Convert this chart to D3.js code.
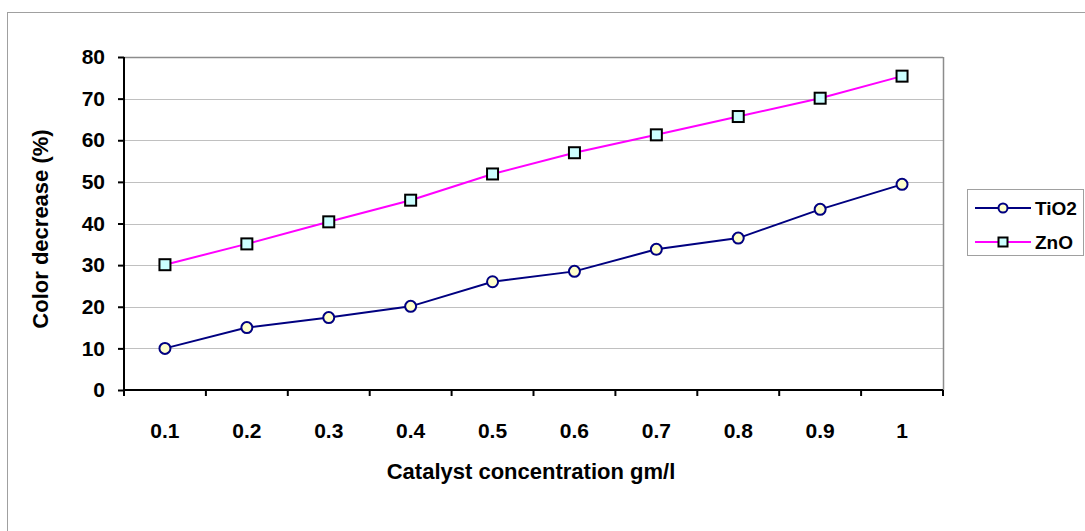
<!DOCTYPE html>
<html>
<head>
<meta charset="utf-8">
<script src="https://cdn.jsdelivr.net/npm/d3@7"></script>
<style>
  html, body { margin: 0; padding: 0; background: #fff; }
  svg { display: block; font-family: "Liberation Sans", Arial, sans-serif; }
</style>
</head>
<body>
<svg id="chart" width="1085" height="531"></svg>
<script>
// Catalyst concentrations (gm/l) on the x axis
const categories = ["0.1", "0.2", "0.3", "0.4", "0.5", "0.6", "0.7", "0.8", "0.9", "1"];
// Colour decrease (%) for each catalyst
const tio2 = [10, 15, 17.4, 20.1, 26, 28.5, 33.8, 36.5, 43.4, 49.4];
const zno = [30.1, 35.1, 40.4, 45.6, 51.9, 57, 61.3, 65.7, 70.1, 75.4];
const yTicks = [0, 10, 20, 30, 40, 50, 60, 70, 80];
const seriesNames = ["TiO2", "ZnO"];

const svg = d3.select("#chart");

// Outer chart frame
svg.append("rect")
  .attr("x", 7.5).attr("y", 12.5)
  .attr("width", 1100).attr("height", 540)
  .attr("fill", "none").attr("stroke", "#a0a0a0").attr("stroke-width", 1);

const plot = { left: 124, right: 943, top: 57, bottom: 390 };

const x = d3.scaleBand().domain(categories).range([plot.left, plot.right]).padding(0);
const y = d3.scaleLinear().domain([0, 80]).range([plot.bottom, plot.top]);

// Horizontal gridlines
svg.append("g")
  .selectAll("line")
  .data(yTicks.filter(d => d > 0))
  .join("line")
  .attr("x1", plot.left).attr("x2", plot.right)
  .attr("y1", d => Math.round(y(d)) + 0.5).attr("y2", d => Math.round(y(d)) + 0.5)
  .attr("stroke", d => d === 80 ? "#8c8c8c" : "#c0c0c0")
  .attr("stroke-width", d => d === 80 ? 1.5 : 1);

// Right edge of plot area
svg.append("line")
  .attr("x1", plot.right + 0.5).attr("x2", plot.right + 0.5)
  .attr("y1", plot.top).attr("y2", plot.bottom)
  .attr("stroke", "#8c8c8c").attr("stroke-width", 1.5);

// Y axis
const yAxis = d3.axisLeft(y).tickValues(yTicks).tickSize(6).tickPadding(13);
const gy = svg.append("g")
  .attr("transform", `translate(${plot.left},0)`)
  .call(yAxis);
gy.select(".domain").attr("stroke", "#000").attr("stroke-width", 2).attr("d", `M0,${plot.top}V${plot.bottom}`);
gy.selectAll(".tick line").attr("stroke", "#000").attr("stroke-width", 2);
gy.selectAll(".tick text")
  .attr("font-size", 21).attr("font-weight", "bold").attr("fill", "#000")
  .attr("font-family", "Liberation Sans, Arial, sans-serif");

// X axis: ticks sit on category boundaries, labels in the middle
const gx = svg.append("g").attr("transform", `translate(0,${plot.bottom})`);
gx.append("line")
  .attr("x1", plot.left - 1).attr("x2", plot.right)
  .attr("stroke", "#000").attr("stroke-width", 2);
const boundaries = categories.map(c => x(c) + x.bandwidth()).concat([x(categories[0])]);
gx.selectAll("line.tk")
  .data(boundaries)
  .join("line").attr("class", "tk")
  .attr("x1", d => d).attr("x2", d => d)
  .attr("y1", 0).attr("y2", 6)
  .attr("stroke", "#000").attr("stroke-width", 2);
gx.selectAll("text")
  .data(categories)
  .join("text")
  .attr("x", d => x(d) + x.bandwidth() / 2)
  .attr("y", 48)
  .attr("text-anchor", "middle")
  .attr("font-size", 21).attr("font-weight", "bold").attr("fill", "#000")
  .text(d => d);

// Axis titles
svg.append("text")
  .attr("x", 531).attr("y", 479)
  .attr("text-anchor", "middle")
  .attr("font-size", 22).attr("font-weight", "bold")
  .text("Catalyst concentration gm/l");
svg.append("text")
  .attr("transform", "translate(48,229) rotate(-90)")
  .attr("text-anchor", "middle")
  .attr("font-size", 22).attr("font-weight", "bold")
  .text("Color decrease (%)");

const cx = c => x(c) + x.bandwidth() / 2;
const line = d3.line().x((d, i) => cx(categories[i])).y(d => y(d));

// ZnO series
svg.append("path").datum(zno)
  .attr("d", line).attr("fill", "none")
  .attr("stroke", "#ff00ff").attr("stroke-width", 2);
svg.append("g").selectAll("rect")
  .data(zno)
  .join("rect")
  .attr("x", (d, i) => cx(categories[i]) - 5.5)
  .attr("y", d => y(d) - 5.5)
  .attr("width", 11).attr("height", 11)
  .attr("fill", "#ccffff").attr("stroke", "#000").attr("stroke-width", 2);

// TiO2 series
svg.append("path").datum(tio2)
  .attr("d", line).attr("fill", "none")
  .attr("stroke", "#000080").attr("stroke-width", 2);
svg.append("g").selectAll("circle")
  .data(tio2)
  .join("circle")
  .attr("cx", (d, i) => cx(categories[i]))
  .attr("cy", d => y(d))
  .attr("r", 5.5)
  .attr("fill", "#ffffcc").attr("stroke", "#000080").attr("stroke-width", 2);

// Legend
const lg = svg.append("g");
lg.append("rect")
  .attr("x", 967.5).attr("y", 189.5)
  .attr("width", 116).attr("height", 66)
  .attr("fill", "#fff").attr("stroke", "#a0a0a0").attr("stroke-width", 1);
const rowsY = [208, 242];
seriesNames.forEach((name, i) => {
  const yy = rowsY[i];
  const col = i === 0 ? "#000080" : "#ff00ff";
  lg.append("line")
    .attr("x1", 975).attr("x2", 1031).attr("y1", yy).attr("y2", yy)
    .attr("stroke", col).attr("stroke-width", 2);
  if (i === 0) {
    lg.append("circle").attr("cx", 1003).attr("cy", yy).attr("r", 4.5)
      .attr("fill", "#ffffcc").attr("stroke", "#000080").attr("stroke-width", 2);
  } else {
    lg.append("rect").attr("x", 998.5).attr("y", yy - 4.5).attr("width", 9).attr("height", 9)
      .attr("fill", "#ccffff").attr("stroke", "#000").attr("stroke-width", 2);
  }
  lg.append("text")
    .attr("x", 1035).attr("y", yy + 7)
    .attr("font-size", 19).attr("font-weight", "bold")
    .text(name);
});
</script>
</body>
</html>
